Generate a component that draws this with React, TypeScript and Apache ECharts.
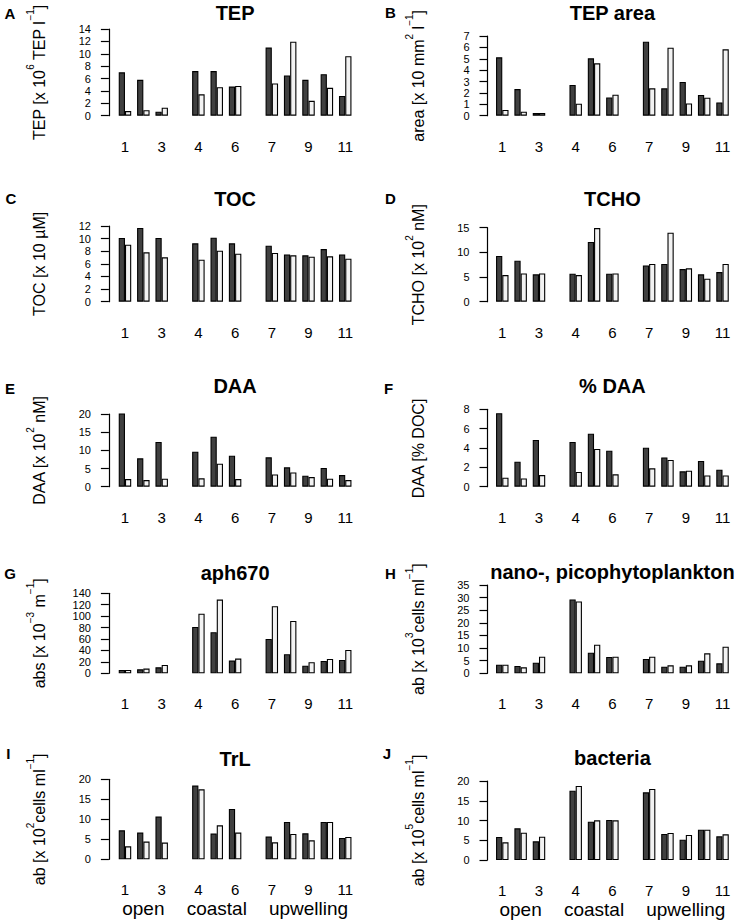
import React, { useEffect, useRef } from 'react';
import * as echarts from 'echarts';

// ---------- data ----------
const stations = ['1', '2', '3', '4', '5', '6', '7', '8', '9', '10', '11'];
const groupNames = ['open', 'coastal', 'upwelling'];
const groupSizes = [3, 3, 5];
const shownStationLabels = ['1', '3', '4', '6', '7', '9', '11'];

const panelLetters = ['A', 'B', 'C', 'D', 'E', 'F', 'G', 'H', 'I', 'J'];
const panelTitles = ['TEP', 'TEP area', 'TOC', 'TCHO', 'DAA', '% DAA', 'aph670', 'nano-, picophytoplankton', 'TrL', 'bacteria'];
// y-axis titles: [text, isSuperscript]
const yAxisNameParts: [string, boolean][][] = [
  [['TEP [x 10', false], ['6', true], [' TEP l', false], ['−1', true], [']', false]],
  [['area [x 10 mm', false], ['2', true], [' l', false], ['−1', true], [']', false]],
  [['TOC [x 10 µM]', false]],
  [['TCHO [x 10', false], ['2', true], [' nM]', false]],
  [['DAA [x 10', false], ['2', true], [' nM]', false]],
  [['DAA [% DOC]', false]],
  [['abs [x 10', false], ['−3', true], [' m', false], ['−1', true], [']', false]],
  [['ab [x 10', false], ['3', true], ['cells ml', false], ['−1', true], [']', false]],
  [['ab [x 10', false], ['2', true], ['cells ml', false], ['−1', true], [']', false]],
  [['ab [x 10', false], ['5', true], ['cells ml', false], ['−1', true], [']', false]],
];
const yMax = [14, 7, 12, 15, 20, 8, 140, 35, 20, 20];
const yStep = [2, 1, 2, 5, 5, 2, 20, 5, 5, 5];

const tepDark = [7.0, 5.8, 0.65, 7.2, 7.2, 4.7, 11.0, 6.5, 5.8, 6.7, 3.2];
const tepLight = [0.75, 0.9, 1.3, 3.45, 4.6, 4.8, 5.2, 11.95, 2.4, 4.5, 9.6];
const tepAreaDark = [5.13, 2.34, 0.23, 2.7, 5.04, 1.6, 6.5, 2.4, 2.96, 1.82, 1.17];
const tepAreaLight = [0.5, 0.35, 0.23, 1.05, 4.6, 1.85, 2.4, 5.97, 1.08, 1.58, 5.83];
const tocDark = [10.1, 11.7, 10.1, 9.25, 10.15, 9.25, 8.88, 7.5, 7.35, 8.35, 7.5];
const tocLight = [9.04, 7.82, 7.03, 6.66, 8.09, 7.61, 7.72, 7.35, 7.14, 7.19, 6.82];
const tchoDark = [9.26, 8.3, 5.54, 5.68, 12.1, 5.68, 7.36, 7.64, 6.62, 5.54, 6.01];
const tchoLight = [5.4, 5.74, 5.74, 5.4, 14.93, 5.74, 7.64, 13.99, 6.76, 4.66, 7.64];
const daaDark = [20.2, 7.8, 12.3, 9.63, 13.76, 8.53, 8.07, 5.32, 3.03, 5.14, 3.2];
const daaLight = [2.1, 1.83, 2.2, 2.3, 6.33, 2.1, 3.39, 3.94, 2.66, 2.2, 1.83];
const pctDaaDark = [7.59, 2.59, 4.83, 4.62, 5.48, 3.72, 4.03, 3.03, 1.59, 2.66, 1.76];
const pctDaaLight = [0.93, 0.86, 1.2, 1.52, 3.9, 1.28, 1.9, 2.76, 1.66, 1.17, 1.17];
const aphDark = [5.8, 7.0, 10.5, 81.1, 71.8, 22.2, 60.1, 33.3, 13.4, 21.6, 23.3];
const aphLight = [5.8, 8.2, 14.6, 104.4, 129.0, 25.7, 117.3, 91.6, 19.3, 25.1, 40.8];
const phytoDark = [3.43, 2.9, 4.23, 29.3, 8.19, 6.47, 5.68, 2.64, 2.64, 5.02, 3.96];
const phytoLight = [3.43, 2.38, 6.6, 28.5, 11.36, 6.6, 6.6, 3.17, 3.17, 7.93, 10.57];
const trlDark = [7.25, 6.67, 10.67, 18.42, 6.42, 12.58, 5.67, 9.33, 6.5, 9.33, 5.33];
const trlLight = [3.25, 4.42, 4.17, 17.5, 8.5, 6.67, 4.25, 6.33, 4.75, 9.33, 5.58];
const bactDark = [5.82, 8.02, 4.73, 17.55, 9.7, 10.13, 17.13, 6.58, 5.15, 7.68, 5.99];
const bactLight = [4.47, 6.92, 5.91, 18.73, 10.04, 10.04, 17.97, 6.84, 6.33, 7.68, 6.5];

const darkSeries = [tepDark, tepAreaDark, tocDark, tchoDark, daaDark, pctDaaDark, aphDark, phytoDark, trlDark, bactDark];
const lightSeries = [tepLight, tepAreaLight, tocLight, tchoLight, daaLight, pctDaaLight, aphLight, phytoLight, trlLight, bactLight];

// ---------- layout ----------
const W = 743;
const H = 921;
const colLeft = [115.8, 493.1];
const gridWidth = 238.6;
const axisOffset = [6.9, 5.6];
const gridTop = [29, 36, 226, 227.7, 414, 409.3, 593.3, 585, 779.3, 781];
const gridZero = [115.7, 115.7, 301.7, 301.7, 486.7, 486.7, 673.3, 673.3, 859.3, 860];
const titleY = [13.3, 13.3, 199.3, 199.3, 386, 386, 573.3, 572.3, 759.3, 758.3];
const letterPos = [
  [10, 13], [390.3, 12.3], [11, 198.3], [390.3, 198.3], [10, 388.3],
  [388.7, 388.3], [10, 573.3], [390.3, 573.3], [8.3, 753.3], [387, 753.3],
];
const FONT = '"Liberation Sans", Arial, sans-serif';
const NAME_FS = 16;
const SUP_FS = 10;
const SUP_RAISE = 11;
const NAME_BASE_GAP = 63.7; // distance from y axis line to name baseline
const CENTRAL = 0.3465; // central baseline offset (em) for Liberation Sans

function buildSlots() {
  const slots: string[] = [];
  let k = 0;
  groupSizes.forEach((n, g) => {
    if (g > 0) slots.push('gap' + g);
    for (let i = 0; i < n; i++) slots.push(stations[k++]);
  });
  return slots;
}
function withGaps(vals: number[]) {
  const out: (number | null)[] = [];
  let k = 0;
  groupSizes.forEach((n, g) => {
    if (g > 0) out.push(null);
    for (let i = 0; i < n; i++) out.push(vals[k++]);
  });
  return out;
}
function groupLabelMap() {
  const m: Record<string, string> = {};
  let k = 0;
  groupSizes.forEach((n, g) => {
    m[stations[k + Math.floor(n / 2)]] = groupNames[g];
    k += n;
  });
  return m;
}

let measureCtx: CanvasRenderingContext2D | null = null;
function textWidth(t: string, fs: number) {
  if (!measureCtx) measureCtx = document.createElement('canvas').getContext('2d');
  if (!measureCtx) return t.length * fs * 0.55;
  measureCtx.font = `${fs}px "Liberation Sans", Arial, sans-serif`;
  return measureCtx.measureText(t).width;
}

export default function App() {
  const ref = useRef<HTMLDivElement>(null);
  useEffect(() => {
    if (!ref.current) return;
    const chart = echarts.init(ref.current, undefined, { renderer: 'svg' });
    const slots = buildSlots();
    const gmap = groupLabelMap();
    const grids: any[] = [];
    const xAxes: any[] = [];
    const yAxes: any[] = [];
    const series: any[] = [];
    const graphics: any[] = [];
    for (let p = 0; p < 10; p++) {
      const col = p % 2;
      grids.push({
        left: colLeft[col],
        top: gridTop[p],
        width: gridWidth,
        height: gridZero[p] - gridTop[p],
        containLabel: false,
      });
      xAxes.push({
        type: 'category',
        gridIndex: p,
        data: slots,
        axisLine: { show: false },
        axisTick: { show: false },
        splitLine: { show: false },
        axisLabel: {
          interval: (_i: number, v: string) => shownStationLabels.includes(v),
          fontSize: 15,
          fontFamily: FONT,
          color: '#000',
          margin: 23,
        },
      });
      yAxes.push({
        type: 'value',
        gridIndex: p,
        min: 0,
        max: yMax[p],
        interval: yStep[p],
        offset: axisOffset[col],
        splitLine: { show: false },
        axisLine: { show: true, lineStyle: { color: '#000', width: 1.2 } },
        axisTick: { show: true, length: 8, lineStyle: { color: '#000', width: 1.2 } },
        axisLabel: { fontSize: 11, fontFamily: FONT, color: '#000', margin: 18 },
      });
      series.push({
        type: 'bar',
        xAxisIndex: p,
        yAxisIndex: p,
        data: withGaps(darkSeries[p]),
        barGap: '0%',
        barCategoryGap: '32%',
        itemStyle: { color: '#404040', borderColor: '#000', borderWidth: 1.1 },
        silent: true,
      });
      series.push({
        type: 'bar',
        xAxisIndex: p,
        yAxisIndex: p,
        data: withGaps(lightSeries[p]),
        barGap: '0%',
        barCategoryGap: '32%',
        itemStyle: { color: '#f2f2f2', borderColor: '#000', borderWidth: 1.1 },
        silent: true,
      });
      graphics.push({
        type: 'text',
        x: colLeft[col] + gridWidth / 2,
        y: titleY[p],
        style: {
          text: panelTitles[p],
          fontSize: 20,
          fontWeight: 'bold',
          fontFamily: FONT,
          fill: '#000',
          textAlign: 'center',
          textVerticalAlign: 'middle',
        },
      });
      graphics.push({
        type: 'text',
        x: letterPos[p][0],
        y: letterPos[p][1],
        style: {
          text: panelLetters[p],
          fontSize: 15,
          fontWeight: 'bold',
          fontFamily: FONT,
          fill: '#000',
          textAlign: 'center',
          textVerticalAlign: 'middle',
        },
      });
      // rotated y-axis title built from parts
      const parts = yAxisNameParts[p];
      const widths = parts.map(([t, sup]) => textWidth(t, sup ? SUP_FS : NAME_FS));
      const total = widths.reduce((a, b) => a + b, 0);
      const centerY = (gridTop[p] + gridZero[p]) / 2;
      const baseX = colLeft[col] - axisOffset[col] - NAME_BASE_GAP;
      let acc = 0;
      parts.forEach(([t, sup], i) => {
        const fs = sup ? SUP_FS : NAME_FS;
        graphics.push({
          type: 'text',
          x: baseX - (sup ? SUP_RAISE : 0) - CENTRAL * fs,
          y: centerY + total / 2 - acc,
          rotation: Math.PI / 2,
          style: {
            text: t,
            fontSize: fs,
            fontFamily: FONT,
            fill: '#000',
            textAlign: 'left',
            textVerticalAlign: 'middle',
          },
        });
        acc += widths[i];
      });
    }
    [8, 9].forEach((p) => {
      xAxes.push({
        type: 'category',
        gridIndex: p,
        data: slots,
        position: 'bottom',
        axisLine: { show: false },
        axisTick: { show: false },
        splitLine: { show: false },
        axisLabel: {
          interval: 0,
          formatter: (v: string) => gmap[v] || '',
          fontSize: 19,
          fontFamily: FONT,
          color: '#000',
          margin: 40,
        },
      });
    });

    chart.setOption({
      animation: false,
      backgroundColor: '#fff',
      grid: grids,
      xAxis: xAxes,
      yAxis: yAxes,
      series,
      graphic: graphics,
    });
    return () => chart.dispose();
  }, []);
  return (
    <div
      ref={ref}
      style={{ position: 'fixed', left: 0, top: 0, width: W, height: H, background: '#fff' }}
    />
  );
}
